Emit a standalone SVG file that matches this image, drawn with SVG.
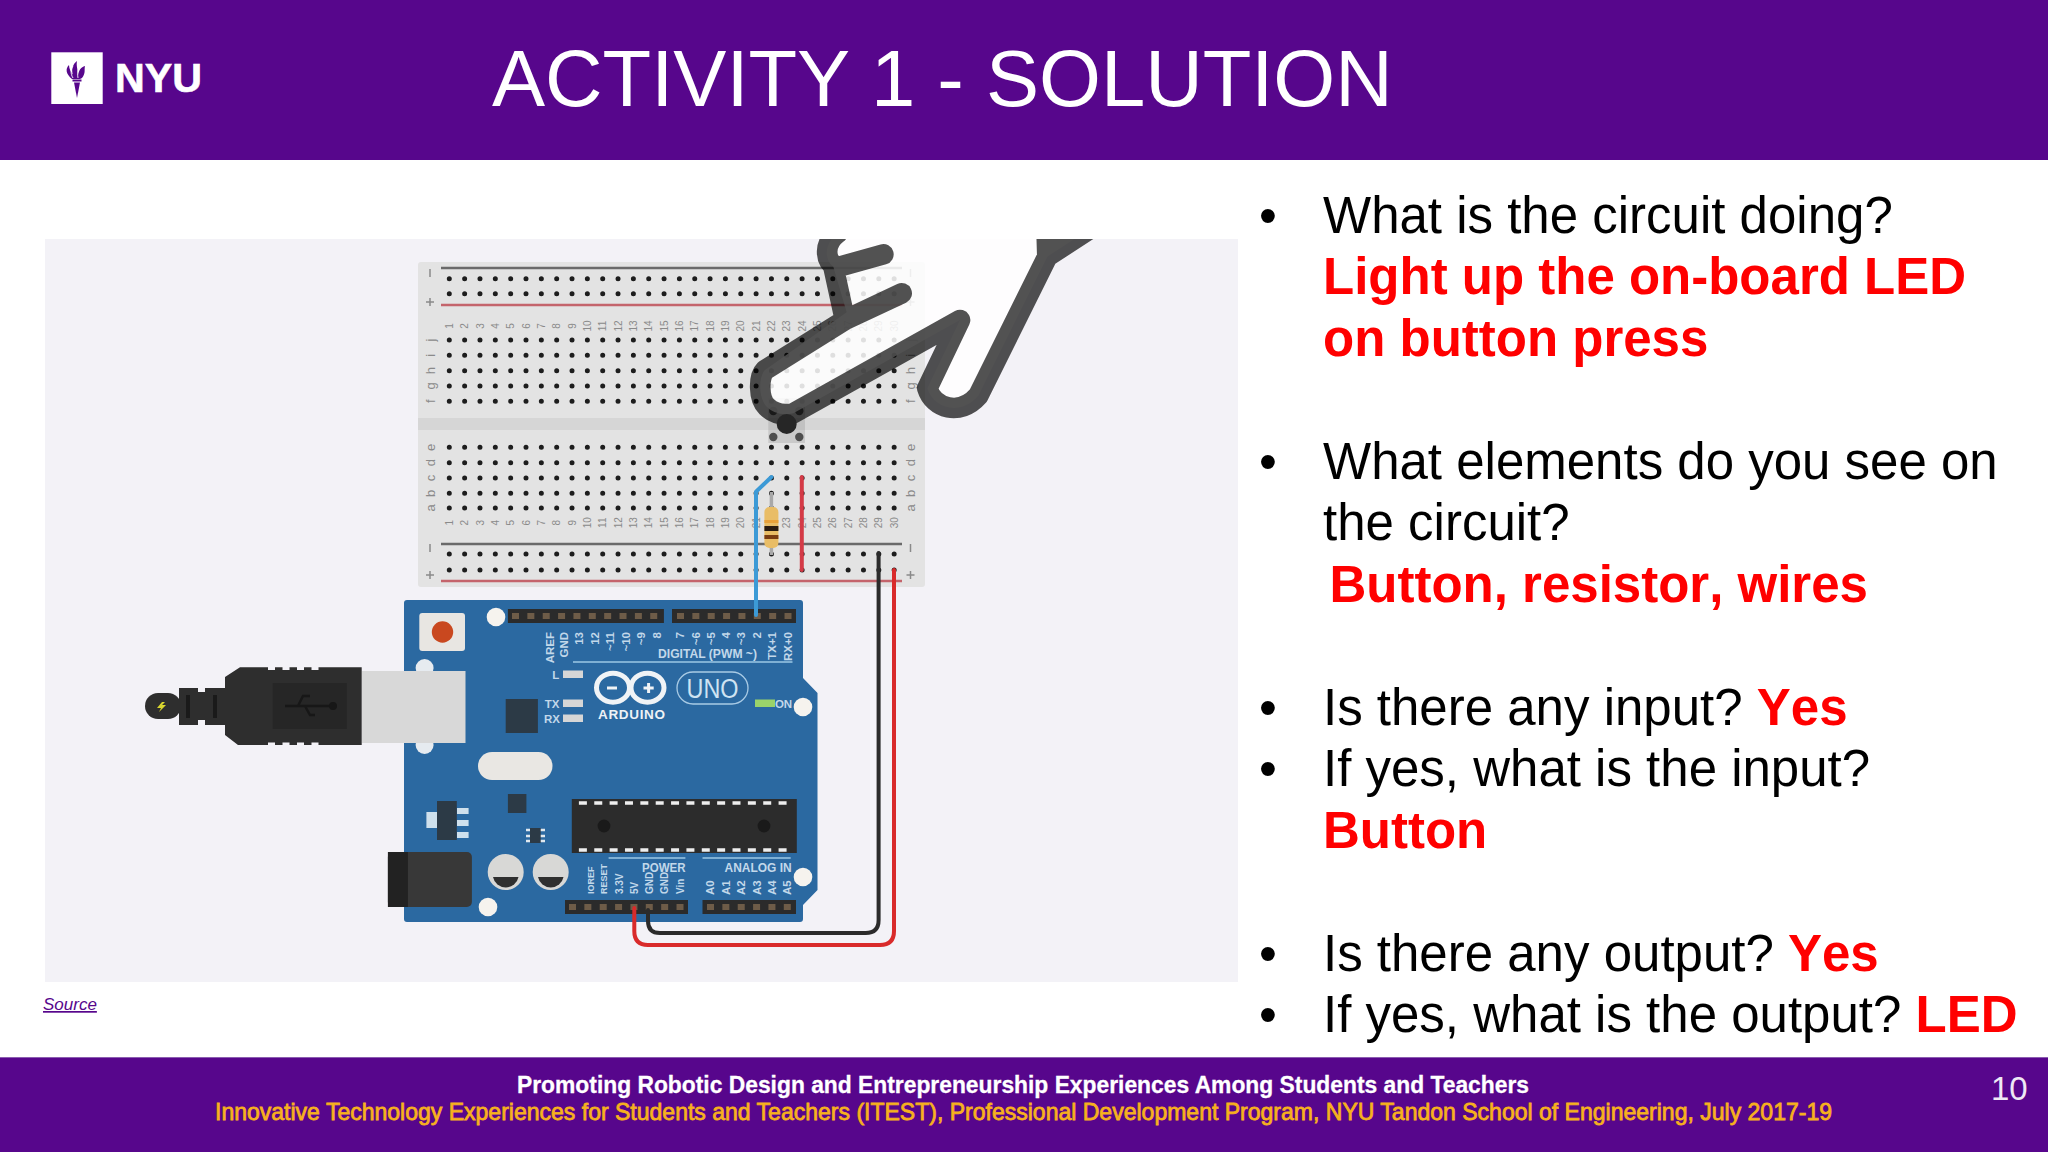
<svg xmlns="http://www.w3.org/2000/svg" width="2048" height="1152" viewBox="0 0 2048 1152">
<defs>
<clipPath id="imgclip"><rect x="45" y="239" width="1193" height="743"/></clipPath>
</defs>
<style>
text{font-family:"Liberation Sans",Arial,sans-serif}
.band{fill:#57068c}
.b{font-size:51px;fill:#000}
.r{font-size:51px;fill:#f00;font-weight:700;font-kerning:none}
.holes{fill:none;stroke:#1d1d1d;stroke-width:5;stroke-linecap:round;stroke-dasharray:0 15.34}
.cn{font-size:10px;fill:#8a8a8a;text-anchor:middle}
.bl{font-size:13px;fill:#8a8a8a;text-anchor:middle}
.wire{fill:none;stroke-width:4;stroke-linecap:round;stroke-linejoin:round}
.hdr{fill:#2b2b2b}
.pin{fill:none;stroke:#6e5c48;stroke-width:6;stroke-dasharray:7 8.36}
.hole{fill:#f6f3ee}
.al{font-size:11.5px;font-weight:700;fill:#c2d8ea}
.an{font-size:12.5px;font-weight:700;fill:#c2d8ea}
.led{fill:#d6d6d6}
.dk{fill:#2c3a46}
</style>

<rect width="2048" height="1152" fill="#fff"/>
<g id="header">
<rect class="band" width="2048" height="160"/>
<rect x="51.300" y="52.300" width="51.400" height="51.700" fill="#fff"/>
<g fill="#57068c">
<path d="M72 79C66 74 65 69 69 65C69 69 71 72 73 75C71 69 73 64 77 61C76 66 78 70 78 75C79 70 81 67 85 66C84 70 86 73 82 78L80 79Z"/>
<path d="M72.500 79.500H81.500V81.500H72.500Z"/>
<path d="M74 82.500H80L77 98Z"/>
</g>
<path d="M73 78C70 73 71 69 73 66M78 78C77 72 78 68 81 66" fill="none" stroke="#fff" stroke-width=".9"/>
<text x="115" y="92" font-size="41" font-weight="700" fill="#fff" stroke="#fff" stroke-width=".6" textLength="87" lengthAdjust="spacingAndGlyphs">NYU</text>
<text x="492" y="106" font-size="79.600" fill="#fff">ACTIVITY 1 - SOLUTION</text>
</g>

<rect x="45" y="239" width="1193" height="743" fill="#f3f2f7"/>

<g id="breadboard">
<rect x="418" y="262" width="507" height="325" rx="3" fill="#e3e3e3"/>
<rect x="418" y="418" width="507" height="12" fill="#d6d6d6"/>
<path d="M441 268H902M441 544H902" stroke="#6a6a6a" stroke-width="2.500"/>
<path d="M441 305H902M441 581H902" stroke="#c4646c" stroke-width="2.500"/>
<path class="holes" d="M449.300 278.700H896M449.300 293.700H896M449.300 340H896M449.300 355.300H896M449.300 370.700H896M449.300 386H896M449.300 401.300H896M449.300 447.300H896M449.300 462.700H896M449.300 478H896M449.300 493.300H896M449.300 508H896M449.300 554H896M449.300 570H896"/>
<g stroke="#8a8a8a" stroke-width="1.500" fill="none">
<path d="M430 269V277M430 298V306M426 302H434M910.500 269V277M910.500 298V306M906.500 302H914.500M430 544V552M430 571V579M426 575H434M910.500 544V552M910.500 571V579M906.500 575H914.500"/>
</g>
<g class="bl">
<text class="bl" transform="translate(435,340) rotate(-90)">j</text><text class="bl" transform="translate(435,355.300) rotate(-90)">i</text><text class="bl" transform="translate(435,370.700) rotate(-90)">h</text><text class="bl" transform="translate(435,386) rotate(-90)">g</text><text class="bl" transform="translate(435,401.300) rotate(-90)">f</text>
<text class="bl" transform="translate(435,447.300) rotate(-90)">e</text><text class="bl" transform="translate(435,462.700) rotate(-90)">d</text><text class="bl" transform="translate(435,478) rotate(-90)">c</text><text class="bl" transform="translate(435,493.300) rotate(-90)">b</text><text class="bl" transform="translate(435,508) rotate(-90)">a</text>
<text class="bl" transform="translate(915,340) rotate(-90)">j</text><text class="bl" transform="translate(915,355.300) rotate(-90)">i</text><text class="bl" transform="translate(915,370.700) rotate(-90)">h</text><text class="bl" transform="translate(915,386) rotate(-90)">g</text><text class="bl" transform="translate(915,401.300) rotate(-90)">f</text>
<text class="bl" transform="translate(915,447.300) rotate(-90)">e</text><text class="bl" transform="translate(915,462.700) rotate(-90)">d</text><text class="bl" transform="translate(915,478) rotate(-90)">c</text><text class="bl" transform="translate(915,493.300) rotate(-90)">b</text><text class="bl" transform="translate(915,508) rotate(-90)">a</text>
</g>
<g>
<text class="cn" transform="translate(453,326) rotate(-90)">1</text><text class="cn" transform="translate(468.300,326) rotate(-90)">2</text><text class="cn" transform="translate(483.700,326) rotate(-90)">3</text><text class="cn" transform="translate(499,326) rotate(-90)">4</text><text class="cn" transform="translate(514.400,326) rotate(-90)">5</text><text class="cn" transform="translate(529.700,326) rotate(-90)">6</text><text class="cn" transform="translate(545,326) rotate(-90)">7</text><text class="cn" transform="translate(560.400,326) rotate(-90)">8</text><text class="cn" transform="translate(575.700,326) rotate(-90)">9</text><text class="cn" transform="translate(591,326) rotate(-90)">10</text><text class="cn" transform="translate(606.400,326) rotate(-90)">11</text><text class="cn" transform="translate(621.700,326) rotate(-90)">12</text><text class="cn" transform="translate(637,326) rotate(-90)">13</text><text class="cn" transform="translate(652.400,326) rotate(-90)">14</text><text class="cn" transform="translate(667.700,326) rotate(-90)">15</text><text class="cn" transform="translate(683,326) rotate(-90)">16</text><text class="cn" transform="translate(698.400,326) rotate(-90)">17</text><text class="cn" transform="translate(713.700,326) rotate(-90)">18</text><text class="cn" transform="translate(729,326) rotate(-90)">19</text><text class="cn" transform="translate(744.400,326) rotate(-90)">20</text><text class="cn" transform="translate(759.700,326) rotate(-90)">21</text><text class="cn" transform="translate(775,326) rotate(-90)">22</text><text class="cn" transform="translate(790.400,326) rotate(-90)">23</text><text class="cn" transform="translate(805.700,326) rotate(-90)">24</text><text class="cn" transform="translate(821,326) rotate(-90)">25</text><text class="cn" transform="translate(836.400,326) rotate(-90)">26</text><text class="cn" transform="translate(851.700,326) rotate(-90)">27</text><text class="cn" transform="translate(867,326) rotate(-90)">28</text><text class="cn" transform="translate(882.400,326) rotate(-90)">29</text><text class="cn" transform="translate(897.700,326) rotate(-90)">30</text>
<text class="cn" transform="translate(453,522.700) rotate(-90)">1</text><text class="cn" transform="translate(468.300,522.700) rotate(-90)">2</text><text class="cn" transform="translate(483.700,522.700) rotate(-90)">3</text><text class="cn" transform="translate(499,522.700) rotate(-90)">4</text><text class="cn" transform="translate(514.400,522.700) rotate(-90)">5</text><text class="cn" transform="translate(529.700,522.700) rotate(-90)">6</text><text class="cn" transform="translate(545,522.700) rotate(-90)">7</text><text class="cn" transform="translate(560.400,522.700) rotate(-90)">8</text><text class="cn" transform="translate(575.700,522.700) rotate(-90)">9</text><text class="cn" transform="translate(591,522.700) rotate(-90)">10</text><text class="cn" transform="translate(606.400,522.700) rotate(-90)">11</text><text class="cn" transform="translate(621.700,522.700) rotate(-90)">12</text><text class="cn" transform="translate(637,522.700) rotate(-90)">13</text><text class="cn" transform="translate(652.400,522.700) rotate(-90)">14</text><text class="cn" transform="translate(667.700,522.700) rotate(-90)">15</text><text class="cn" transform="translate(683,522.700) rotate(-90)">16</text><text class="cn" transform="translate(698.400,522.700) rotate(-90)">17</text><text class="cn" transform="translate(713.700,522.700) rotate(-90)">18</text><text class="cn" transform="translate(729,522.700) rotate(-90)">19</text><text class="cn" transform="translate(744.400,522.700) rotate(-90)">20</text><text class="cn" transform="translate(759.700,522.700) rotate(-90)">21</text><text class="cn" transform="translate(775,522.700) rotate(-90)">22</text><text class="cn" transform="translate(790.400,522.700) rotate(-90)">23</text><text class="cn" transform="translate(805.700,522.700) rotate(-90)">24</text><text class="cn" transform="translate(821,522.700) rotate(-90)">25</text><text class="cn" transform="translate(836.400,522.700) rotate(-90)">26</text><text class="cn" transform="translate(851.700,522.700) rotate(-90)">27</text><text class="cn" transform="translate(867,522.700) rotate(-90)">28</text><text class="cn" transform="translate(882.400,522.700) rotate(-90)">29</text><text class="cn" transform="translate(897.700,522.700) rotate(-90)">30</text>
</g>
</g>

<g id="arduino">
<path d="M404 603Q404 600 407 600H800Q803 600 803 603V678L817.500 693V890L803 905V919Q803 922 800 922H407Q404 922 404 919Z" fill="#2b69a1"/>
<circle cx="424.600" cy="668" r="9" fill="#e6ebf0"/><circle cx="424.600" cy="745" r="9" fill="#e6ebf0"/>
<rect x="507.900" y="609" width="156" height="14" class="hdr"/><rect x="672" y="609" width="124" height="14" class="hdr"/>
<rect x="565" y="900" width="123" height="14" class="hdr"/><rect x="702.500" y="900" width="93.500" height="14" class="hdr"/>
<path class="pin" d="M512 616H662M677 616H796M569 907H688M707 907H796"/>
<rect x="419.300" y="613" width="45.700" height="38" rx="3" fill="#e8e6e2"/><circle cx="442.500" cy="632" r="10.700" fill="#c9481f"/>
<circle class="hole" cx="496" cy="617" r="9.300"/><circle class="hole" cx="803" cy="707" r="9.300"/><circle class="hole" cx="803" cy="877" r="9.300"/><circle class="hole" cx="488" cy="907" r="9.300"/>
<g>
<text class="al" text-anchor="end" dy=".35em" transform="translate(549.600,632) rotate(-90)">AREF</text><text class="al" text-anchor="end" dy=".35em" transform="translate(563.900,632) rotate(-90)">GND</text><text class="al" text-anchor="end" dy=".35em" transform="translate(579.300,632) rotate(-90)">13</text><text class="al" text-anchor="end" dy=".35em" transform="translate(594.600,632) rotate(-90)">12</text><text class="al" text-anchor="end" dy=".35em" transform="translate(610.400,632) rotate(-90)">~11</text><text class="al" text-anchor="end" dy=".35em" transform="translate(625.700,632) rotate(-90)">~10</text><text class="al" text-anchor="end" dy=".35em" transform="translate(640.700,632) rotate(-90)">~9</text><text class="al" text-anchor="end" dy=".35em" transform="translate(656.800,632) rotate(-90)">8</text><text class="al" text-anchor="end" dy=".35em" transform="translate(680,632) rotate(-90)">7</text><text class="al" text-anchor="end" dy=".35em" transform="translate(696,632) rotate(-90)">~6</text><text class="al" text-anchor="end" dy=".35em" transform="translate(711.400,632) rotate(-90)">~5</text><text class="al" text-anchor="end" dy=".35em" transform="translate(726.400,632) rotate(-90)">4</text><text class="al" text-anchor="end" dy=".35em" transform="translate(741.400,632) rotate(-90)">~3</text><text class="al" text-anchor="end" dy=".35em" transform="translate(756.800,632) rotate(-90)">2</text><text class="al" text-anchor="end" dy=".35em" transform="translate(772,632) rotate(-90)">TX+1</text><text class="al" text-anchor="end" dy=".35em" transform="translate(787.900,632) rotate(-90)">RX+0</text>
<text class="an" x="658" y="657.500" textLength="99" lengthAdjust="spacingAndGlyphs">DIGITAL (PWM ~)</text>
<path d="M573 662H792.500M608.600 858H685.400M702.500 858H790.700" stroke="#7fb0d4" stroke-width="1.800"/>
<text class="an" x="642" y="871.500" textLength="43.500" lengthAdjust="spacingAndGlyphs">POWER</text>
<text class="an" x="724.600" y="871.500" textLength="67" lengthAdjust="spacingAndGlyphs">ANALOG IN</text>
<text class="al" dy=".35em" transform="translate(590.700,894) rotate(-90)" style="font-size:9px">IOREF</text><text class="al" style="font-size:9px" dy=".35em" transform="translate(603.900,894) rotate(-90)">RESET</text><text class="al" style="font-size:10px" dy=".35em" transform="translate(619.300,894) rotate(-90)">3.3V</text><text class="al" style="font-size:10px" dy=".35em" transform="translate(634.300,894) rotate(-90)">5V</text><text class="al" style="font-size:10px" dy=".35em" transform="translate(649.600,894) rotate(-90)">GND</text><text class="al" style="font-size:10px" dy=".35em" transform="translate(664.600,894) rotate(-90)">GND</text><text class="al" style="font-size:10px" dy=".35em" transform="translate(680,894) rotate(-90)">Vin</text>
<text class="al" dy=".35em" transform="translate(710.400,895) rotate(-90)">A0</text><text class="al" dy=".35em" transform="translate(725.700,895) rotate(-90)">A1</text><text class="al" dy=".35em" transform="translate(741.400,895) rotate(-90)">A2</text><text class="al" dy=".35em" transform="translate(756.800,895) rotate(-90)">A3</text><text class="al" dy=".35em" transform="translate(772,895) rotate(-90)">A4</text><text class="al" dy=".35em" transform="translate(787,895) rotate(-90)">A5</text>
</g>
<rect class="led" x="563" y="670.500" width="20" height="7.500"/><rect class="led" x="563" y="699.500" width="20" height="7.500"/><rect class="led" x="563" y="714.500" width="20" height="7.500"/>
<text class="al" x="555.700" y="678.500" text-anchor="middle">L</text><text class="al" x="552" y="707.500" text-anchor="middle">TX</text><text class="al" x="552" y="722.500" text-anchor="middle">RX</text>
<rect x="755" y="699.500" width="20" height="7.500" fill="#9ad36a"/><text class="al" x="783.500" y="707.500" text-anchor="middle">ON</text>
<g fill="none" stroke="#f0f3f6" stroke-width="5"><ellipse cx="613" cy="687.700" rx="16.500" ry="14.500"/><ellipse cx="647.500" cy="687.700" rx="16.500" ry="14.500"/></g>
<path d="M607 688H617M643.500 688H653.700M648.600 683V693" stroke="#f0f3f6" stroke-width="3" fill="none"/>
<text x="631.500" y="719" font-size="13.500" font-weight="700" fill="#eef2f6" text-anchor="middle" textLength="67">ARDUINO</text>
<rect x="677" y="672" width="71" height="32" rx="16" fill="none" stroke="#a9cbe5" stroke-width="1.300"/>
<text x="712.500" y="698" font-size="27" fill="#cfe3f2" text-anchor="middle" textLength="52" lengthAdjust="spacingAndGlyphs">UNO</text>
<rect x="478" y="752" width="74.500" height="28" rx="14" fill="#e9e7e3"/>
<rect class="dk" x="505.700" y="699" width="32.200" height="34"/><rect class="dk" x="507.900" y="794" width="18.500" height="19"/>
<rect x="426.400" y="812" width="11" height="16" fill="#cfe0ec"/><path d="M457 811H468.600M457 823H468.600M457 835H468.600" stroke="#cfe0ec" stroke-width="6"/><rect class="dk" x="437" y="801" width="19.800" height="39"/>
<path d="M526 830H545M526 836H545M526 841H545" stroke="#dfe8ef" stroke-width="2.500"/><rect class="dk" x="530" y="828" width="10.700" height="15"/>
<rect x="571.800" y="799" width="225" height="54" fill="#2c2c2c"/>
<path d="M578.900 803H790M578.900 850H790" stroke="#eee" stroke-width="3.500" stroke-dasharray="8 7.360" fill="none"/>
<circle cx="604" cy="826" r="6.400" fill="#1a1a1a"/><circle cx="764" cy="826" r="6.400" fill="#1a1a1a"/>
<circle cx="505.700" cy="872" r="18" fill="#d8d8d6"/><path d="M493 877H518.500A13 13 0 0 1 493 877Z" fill="#2f2f2f"/>
<circle cx="550.700" cy="872" r="18" fill="#d8d8d6"/><path d="M538 877H563.500A13 13 0 0 1 538 877Z" fill="#2f2f2f"/>
<rect x="387.900" y="852" width="84" height="55" rx="5" fill="#383838"/><rect x="387.900" y="852" width="20" height="55" fill="#222"/>
</g>

<g id="usb">
<rect x="362" y="671" width="103.500" height="72" fill="#d8d8d8"/>
<rect x="145" y="693" width="36" height="26" rx="13" fill="#2e2e2e"/>
<path d="M361.700 667.300H240L225 677V688H205V692H198V688H179V725H198V720H205V725H225V735L238 745H361.700Z" fill="#2e2e2e"/>
<path d="M188 695V718M215 695V718" stroke="#1a1a1a" stroke-width="4"/>
<rect x="272.700" y="683" width="74" height="46" fill="#262626"/>
<path d="M285 706H335M298 706L303 696H310M305 706L310 715H315" stroke="#171717" stroke-width="2.500" fill="none"/><circle cx="333" cy="706" r="4" fill="#171717"/>
<path d="M268 668.500H326M268 744H326" stroke="#f3f2f7" stroke-width="3" stroke-dasharray="7 7.500"/>
<path d="M162 702L157 708H161L159 712L166 705H162L165 702Z" fill="#d9d62f"/>
</g>

<g id="resistor">
<path d="M771.400 492V555" stroke="#a8a8a8" stroke-width="3.500"/>
<rect x="764.400" y="507" width="14" height="41" rx="5" fill="#e9bd66"/>
<rect x="764.400" y="520" width="14" height="3" fill="#e8a23a"/><rect x="764.400" y="526" width="14" height="5" fill="#2a1c10"/><rect x="764.400" y="535" width="14" height="4" fill="#7a3d12"/>
</g>

<g id="connectors">
<path class="wire" stroke="#3c9ad6" d="M771.400 477L756 491.700V615"/>
<path class="wire" stroke="#d43a46" d="M801.800 477V570"/>
<path class="wire" stroke="#2b2b2b" d="M878.600 553V920Q878.600 933 865.700 933H660Q648 933 648 921V910"/>
<path class="wire" stroke="#d92b2b" d="M894 570V931Q894 945 880 945H648Q634.300 945 634.300 931V908"/>
</g>

<g id="push-button">
<rect x="768.300" y="398" width="36.700" height="45" fill="#9b9b9b" fill-opacity=".35"/>
<g fill="#4e4e4e"><circle cx="773.300" cy="411" r="4.200"/><circle cx="799.300" cy="411" r="4.200"/><circle cx="773.300" cy="437" r="4.200"/><circle cx="799.300" cy="437" r="4.200"/></g>
</g>

<g id="hand" clip-path="url(#imgclip)">
<g transform="translate(730,225) scale(.33333)">
<path d="M322 25C282 55 282 105 310 125L350 262L105 435C85 455 85 520 110 545Q140 575 190 565L690 285L592 490C610 550 690 575 745 512L952 95L1090 5Z" fill="#fff" fill-opacity=".86"/>
<path d="M322 25C282 55 282 105 318 128L460 88M310 125L345 285L515 205M345 285L105 435C85 455 85 520 110 545Q140 575 190 565L690 285L592 490C610 550 690 575 745 512L952 95L1090 5M950 25L952 95" fill="none" stroke="#000" stroke-opacity=".68" stroke-width="62" stroke-linecap="round" stroke-linejoin="round"/>
</g>
</g>
<circle cx="786.700" cy="424" r="10" fill="#262626"/>

<text x="43" y="1010" font-size="17" font-style="italic" fill="#57068c" text-decoration="underline">Source</text>

<g id="bullets">
<g font-size="51" fill="#000"><text x="1259" y="232.500">•</text><text x="1259" y="478.500">•</text><text x="1259" y="724.500">•</text><text x="1259" y="786">•</text><text x="1259" y="970.500">•</text><text x="1259" y="1032">•</text></g>
<text class="b" x="1323" y="232.800">What is the circuit doing?</text>
<text class="r" x="1323" y="294.300">Light up the on-board LED</text>
<text class="r" x="1323" y="356.300">on button press</text>
<text class="b" x="1323" y="478.800">What elements do you see on</text>
<text class="b" x="1323" y="540.300">the circuit?</text>
<text class="r" x="1329.500" y="601.800">Button, resistor, wires</text>
<text class="b" x="1323" y="724.800">Is there any input? <tspan class="r">Yes</tspan></text>
<text class="b" x="1323" y="786.300">If yes, what is the input?</text>
<text class="r" x="1323" y="848">Button</text>
<text class="b" x="1323" y="970.500">Is there any output? <tspan class="r">Yes</tspan></text>
<text class="b" x="1323" y="1032">If yes, what is the output? <tspan class="r">LED</tspan></text>
</g>

<g id="footer">
<rect class="band" y="1057" width="2048" height="95"/>
<rect y="1057" width="2048" height="1" fill="#8c5db0"/>
<text x="1023" y="1093" font-size="24" font-weight="700" fill="#fff" stroke="#fff" stroke-width=".3" text-anchor="middle" textLength="1012" lengthAdjust="spacingAndGlyphs">Promoting Robotic Design and Entrepreneurship Experiences Among Students and Teachers</text>
<text x="1023.500" y="1119.500" font-size="24" fill="#f7b11d" stroke="#f7b11d" stroke-width=".8" text-anchor="middle" textLength="1617" lengthAdjust="spacingAndGlyphs">Innovative Technology Experiences for Students and Teachers (ITEST), Professional Development Program, NYU Tandon School of Engineering, July 2017-19</text>
<text x="1991" y="1100" font-size="33" fill="#efe8f5">10</text>
</g>
</svg>
